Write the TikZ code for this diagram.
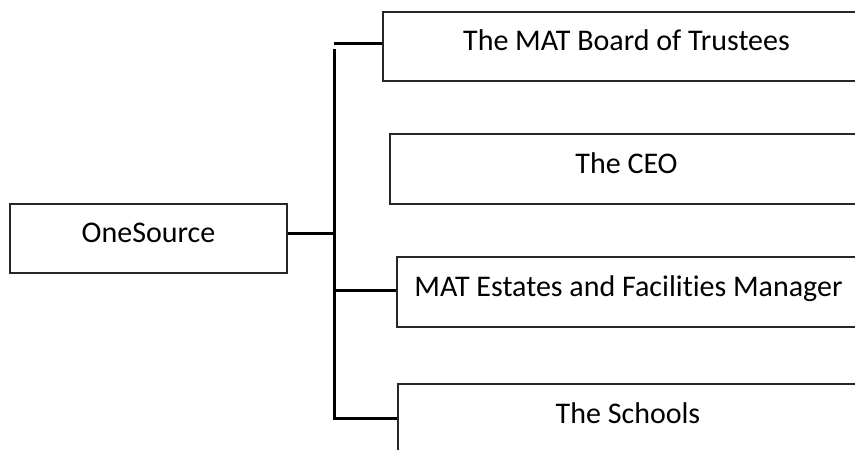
\documentclass[tikz,border=0pt]{standalone}
\usepackage{fontspec}
\setmainfont{Carlito}[Ligatures={NoCommon}]
\begin{document}
\begin{tikzpicture}[x=1pt,y=-1pt,
  box/.style={draw=black!85, line width=1.5pt, rectangle, inner sep=0pt,
    text height=14pt, text depth=6pt, font=\fontsize{30}{35}\selectfont},
  conn/.style={line width=3pt, draw=black}]
\useasboundingbox (0,0) rectangle (855,450);
\clip (0,0) rectangle (855,450);
\node[box, minimum width=277pt, minimum height=69pt] (one) at (148.5,238.5) {OneSource};
\node[box, minimum width=487pt, minimum height=69pt] (board) at (626.5,46.5) {The MAT Board of Trustees};
\node[box, minimum width=473pt, minimum height=70pt] (ceo) at (626.5,169) {The CEO};
\node[box, minimum width=463pt, minimum height=70pt] (mat) at (628.5,292) {MAT Estates and Facilities Manager};
\node[box, minimum width=460pt, minimum height=70pt] (schools) at (628,419) {The Schools};
\coordinate (tTop) at (334,49);
\coordinate (tBot) at (334,420);
\coordinate (tBoard) at (334,43);
\coordinate (tOne) at (334,233.5);
\coordinate (tMat) at (334,290.5);
\coordinate (tSch) at (334,418);
\draw[conn] (tTop) -- (tBot);
\draw[conn] ([yshift=5pt]one.east) -- (tOne);
\draw[conn] (tBoard) -- ([yshift=3.5pt]board.west);
\draw[conn] (tMat) -- ([yshift=1.5pt]mat.west);
\draw[conn] (tSch) -- ([yshift=1pt]schools.west);
\end{tikzpicture}
\end{document}
